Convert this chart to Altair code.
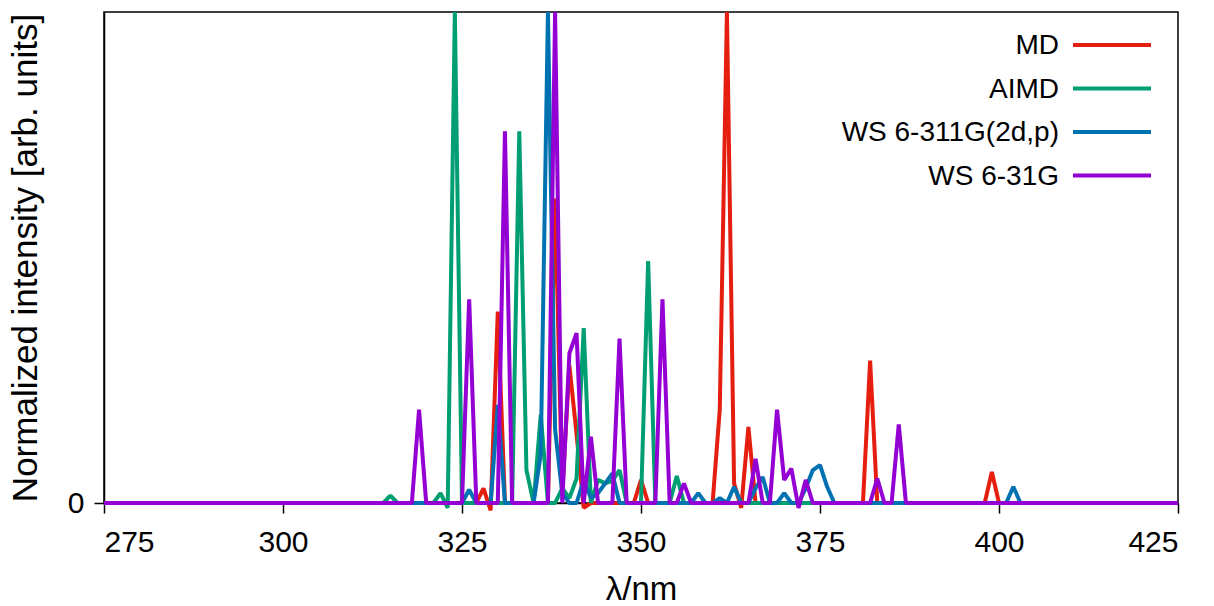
import altair as alt
import pandas as pd

# ---- data (wavelength in nm, normalized intensity) ----
md_nm = [275, 327, 328, 329, 330, 331, 337, 338, 339, 340, 341, 342, 343, 349, 350, 351,
         360, 361, 362, 363, 364, 365, 366, 381, 382, 383, 398, 399, 400, 425]
md_val = [0, 0, 0.03, -0.015, 0.39, 0, 0, 0.62, 0.02, 0.28, 0.14, -0.01, 0, 0, 0.047, 0,
          0, 0.19, 1.0, 0.04, -0.01, 0.155, 0, 0, 0.29, 0, 0, 0.063, 0, 0]

aimd_nm = [275, 314, 315, 316, 321, 322, 323, 324, 325, 332, 333, 334, 335, 336, 337, 338,
           339, 340, 341, 342, 343, 344, 345, 346, 347, 348, 350, 351, 352, 354, 355, 356, 425]
aimd_val = [0, 0, 0.015, 0, 0, 0.02, -0.01, 1.0, 0, 0, 0.757, 0.067, 0, 0.18, 0, 0,
            0.03, 0.01, 0.05, 0.356, 0, 0.047, 0.04, 0.045, 0.067, 0, 0, 0.493, 0, 0, 0.055, 0, 0]

ws311_nm = [275, 325, 326, 327, 329, 330, 331, 335, 336, 337, 338, 339, 340, 341, 342, 343,
            344, 345, 346, 347, 357, 358, 359, 360, 361, 362, 363, 364, 365, 366, 367, 368,
            369, 370, 371, 372, 373, 374, 375, 376, 377, 401, 402, 403, 425]
ws311_val = [0, 0, 0.027, 0, 0, 0.2, 0, 0, 0.1, 1.0, 0.15, 0.02, 0, 0, 0.047, 0.01,
             0.02, 0.04, 0.06, 0, 0, 0.02, 0, 0, 0.01, 0, 0.033, 0, 0, 0.03, 0.053, 0,
             0, 0.02, 0, 0, 0.03, 0.067, 0.077, 0.033, 0, 0, 0.033, 0, 0]

ws31_nm = [275, 318, 319, 320, 325, 326, 327, 330, 331, 332, 337, 338, 339, 340, 341, 342,
           343, 344, 346, 347, 348, 352, 353, 354, 355, 356, 357, 365, 366, 367, 368, 369,
           370, 371, 372, 373, 374, 382, 383, 384, 385, 386, 387, 425]
ws31_val = [0, 0, 0.19, 0, 0, 0.415, 0, 0, 0.757, 0, 0, 1.0, 0, 0.305, 0.346, 0,
            0.135, 0, 0, 0.335, 0, 0, 0.415, 0, 0, 0.04, 0, 0, 0.09, 0, 0, 0.19,
            0.047, 0.07, -0.01, 0.047, 0, 0, 0.05, 0, 0, 0.16, 0, 0]

series_names = ["MD", "AIMD", "WS 6-311G(2d,p)", "WS 6-31G"]
series_colors = ["#e51e10", "#009e73", "#0072b2", "#9400d3"]
series_x = [md_nm, aimd_nm, ws311_nm, ws31_nm]
series_y = [md_val, aimd_val, ws311_val, ws31_val]

x_ticks = [275, 300, 325, 350, 375, 400, 425]
y_ticks = [0]
x_title = "λ/nm"
y_title = "Normalized intensity [arb. units]"

FONT = "Liberation Sans"
W, H = 1074, 491
LW = 4

x_enc = alt.X("nm:Q", title=x_title,
              scale=alt.Scale(domain=[275, 425], nice=False, zero=False),
              axis=alt.Axis(values=x_ticks, labelPadding=14, titlePadding=16, format="d",
                            titleFontSize=33))
y_enc = alt.Y("val:Q", title=y_title,
              scale=alt.Scale(domain=[0, 1], nice=False, zero=False),
              axis=alt.Axis(values=y_ticks, labelPadding=10, titlePadding=24, format="d",
                            titleFontSize=35))

layers = []
for name, color, xs, ys in zip(series_names, series_colors, series_x, series_y):
    df = pd.DataFrame({"nm": xs, "val": ys, "series": name})
    layers.append(
        alt.Chart(df).mark_line(color=color, strokeWidth=LW, strokeJoin="bevel")
        .encode(x=x_enc, y=y_enc)
    )

# legend drawn inside plot, labels right-aligned with the line sample to their right
for i, (name, color) in enumerate(zip(series_names, series_colors)):
    ly = 33 + 43.5 * i
    ldf = pd.DataFrame({"label": [name]})
    layers.append(
        alt.Chart(ldf).mark_text(align="right", baseline="middle", font=FONT, fontSize=28,
                                 color="black")
        .encode(text="label:N", x=alt.value(955), y=alt.value(ly + 1))
    )
    layers.append(
        alt.Chart(ldf).mark_rule(color=color, strokeWidth=LW)
        .encode(x=alt.value(969), x2=alt.value(1047), y=alt.value(ly))
    )

chart = (
    alt.layer(*layers)
    .properties(width=W, height=H,
                autosize=alt.AutoSizeParams(type="none"),
                padding={"left": 104, "top": 12, "right": 36, "bottom": 103})
    .configure_view(stroke="black", strokeWidth=1.5)
    .configure_axis(grid=False, domainColor="black", domainWidth=1.5,
                    tickColor="black", tickWidth=1.5, tickSize=10,
                    labelFont=FONT, labelFontSize=30, labelColor="black",
                    titleFont=FONT, titleFontWeight="normal",
                    titleColor="black")
)

chart.save("out.html", embed_options={"renderer": "svg", "actions": False})
